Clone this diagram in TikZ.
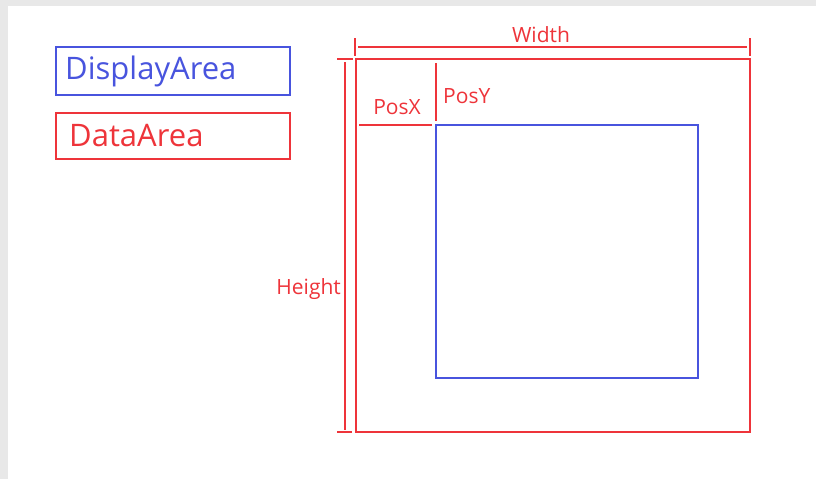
\documentclass[tikz,border=0pt]{standalone}
\usepackage{fontspec}
\setmainfont{Open Sans}
\definecolor{myred}{RGB}{238,52,58}
\definecolor{myblue}{RGB}{72,84,222}
\definecolor{mygray}{RGB}{232,232,232}
\tikzset{
  redline/.style={draw=myred, line width=1.6pt},
  blueline/.style={draw=myblue, line width=1.6pt},
  lbl/.style={text=myred, font=\fontsize{21}{24}\selectfont, inner sep=0pt},
  legend/.style={font=\fontsize{31}{34}\selectfont, inner sep=0pt, anchor=west}
}
\begin{document}
\begin{tikzpicture}[x=1pt,y=-1pt]
\fill[mygray] (0,0) rectangle (816,479);
\fill[white] (8,6) rectangle (816,479);
\useasboundingbox (0,0) rectangle (816,479);
% legend
\draw[blueline] (56,47) rectangle (290,95);
\node[legend, text=myblue] (disp) at (65,71) {DisplayArea};
\draw[redline] (56,113) rectangle (290,159);
\node[legend, text=myred] (data) at (69,136) {DataArea};
% outer data area
\draw[redline] (356,59) rectangle (750,432);
% inner display area
\draw[blueline] (436,125) rectangle (698,378);
% width dimension
\coordinate (wl) at (358,47);
\coordinate (wr) at (747,47);
\draw[redline] (wl) -- (wr);
\draw[redline] (355,38) -- (355,56);
\draw[redline] (750,38) -- (750,56);
\node[lbl] (width) at (541,35) {Width};
% height dimension
\coordinate (ht) at (345,62);
\coordinate (hb) at (345,430);
\draw[redline] (ht) -- (hb);
\draw[redline] (337,59) -- (353,59);
\draw[redline] (337,432) -- (352,432);
\node[lbl, anchor=east] (height) at (341,289) {Height};
% PosX
\coordinate (pxl) at (359,125);
\coordinate (pxr) at (432,125);
\draw[redline] (pxl) -- (pxr);
\node[lbl] (posx) at (397,107) {PosX};
% PosY
\coordinate (pyt) at (436,63);
\coordinate (pyb) at (436,121);
\draw[redline] (pyt) -- (pyb);
\node[lbl, anchor=west] (posy) at (443,96) {PosY};
\end{tikzpicture}
\end{document}
